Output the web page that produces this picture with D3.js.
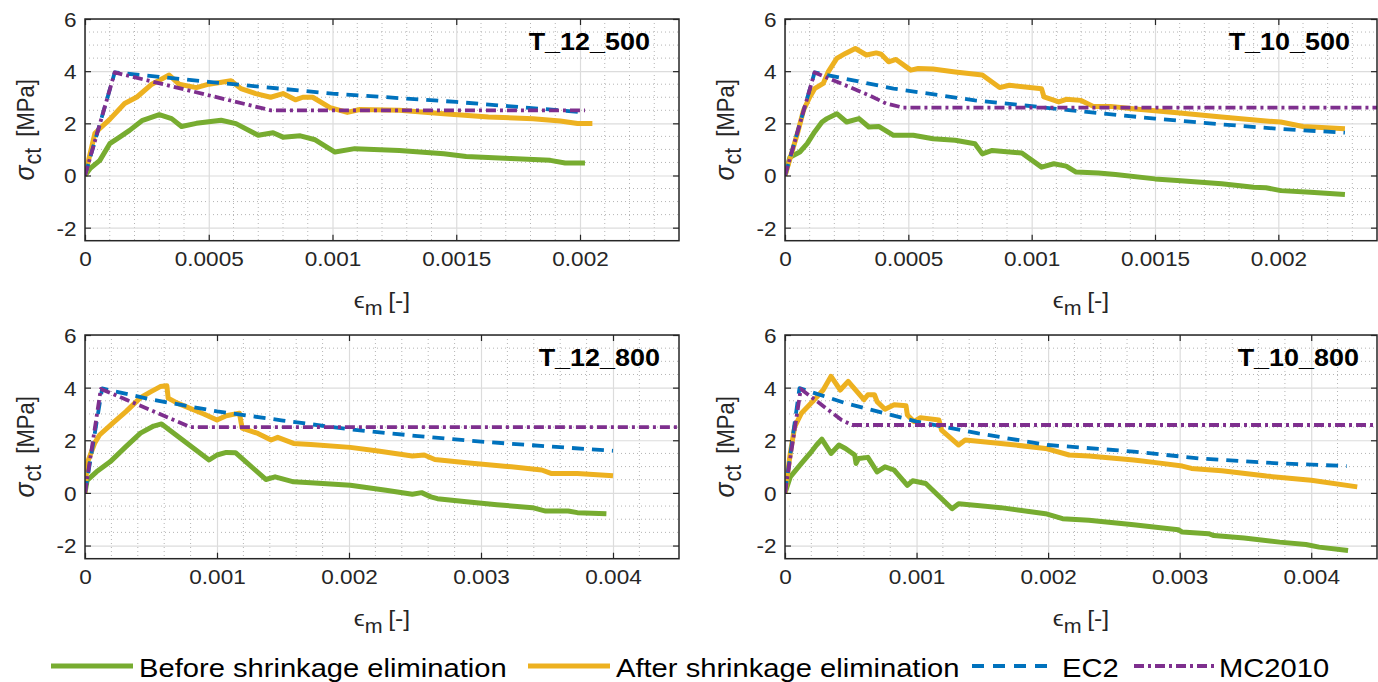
<!DOCTYPE html>
<html>
<head>
<meta charset="utf-8">
<script src="https://cdn.jsdelivr.net/npm/d3@7"></script>
<style>
  body { margin: 0; background: #ffffff; }
  svg { display: block; font-family: "Liberation Sans", Arial, Helvetica, sans-serif; }
</style>
</head>
<body>
<svg id="chart" width="1378" height="682"></svg>
<script>
// ---- Tick labels and names ----
const xTicksShort = [0, 0.0005, 0.001, 0.0015, 0.002];
const xTicksLong = [0, 0.001, 0.002, 0.003, 0.004];
const yTicks = [-2, 0, 2, 4, 6];
const panelTitles = ["T_12_500", "T_10_500", "T_12_800", "T_10_800"];
const seriesNames = ["Before shrinkage elimination", "After shrinkage elimination", "EC2", "MC2010"];

// ---- T_12_500 : [strain, stress MPa] ----
const before_12_500 = [[0,0],[0.00002,0.26],[0.00006,0.58],[0.0001,1.22],[0.00014,1.47],[0.00018,1.73],[0.00023,2.1],[0.0003,2.33],[0.00035,2.18],[0.00039,1.88],[0.00045,2.0],[0.00055,2.12],[0.00061,1.99],[0.0007,1.54],[0.00076,1.64],[0.0008,1.47],[0.00087,1.52],[0.00093,1.37],[0.00101,0.9],[0.00109,1.03],[0.00127,0.96],[0.00145,0.83],[0.00154,0.73],[0.00172,0.65],[0.00188,0.58],[0.00194,0.48],[0.00202,0.48]];
const after_12_500 = [[0,0],[0.00004,1.62],[0.00006,1.8],[0.0001,2.15],[0.00016,2.76],[0.00021,3.01],[0.00027,3.5],[0.00031,3.7],[0.00034,3.85],[0.00038,3.5],[0.00045,3.37],[0.0005,3.5],[0.00059,3.63],[0.00063,3.33],[0.00069,3.14],[0.00075,3.0],[0.0008,3.14],[0.00085,2.9],[0.00088,3.0],[0.00092,3.0],[0.00099,2.6],[0.00106,2.42],[0.00111,2.53],[0.00127,2.5],[0.00145,2.37],[0.00163,2.24],[0.00181,2.18],[0.00192,2.09],[0.00199,1.99],[0.00205,1.99]];
const ec2_12_500 = [[0,0],[0.00012,3.95],[0.0005,3.59],[0.001,3.14],[0.0015,2.82],[0.00202,2.42]];
const mc_12_500 = [[0,0],[0.00012,3.95],[0.00075,2.5],[0.00202,2.5]];

// ---- T_10_500 ----
const before_10_500 = [[0,0],[0.00002,0.7],[0.00006,0.9],[0.00009,1.22],[0.00012,1.67],[0.00015,2.05],[0.00017,2.18],[0.00021,2.37],[0.00025,2.05],[0.0003,2.18],[0.00034,1.86],[0.00038,1.88],[0.00044,1.54],[0.00052,1.54],[0.0006,1.41],[0.00069,1.35],[0.00077,1.22],[0.0008,0.83],[0.00084,0.96],[0.00096,0.86],[0.00104,0.32],[0.00109,0.45],[0.00114,0.36],[0.00118,0.13],[0.00127,0.1],[0.00134,0.04],[0.0015,-0.13],[0.00159,-0.19],[0.00177,-0.32],[0.0019,-0.45],[0.00195,-0.47],[0.00201,-0.58],[0.00213,-0.64],[0.00227,-0.73]];
const after_10_500 = [[0,0],[0.00005,1.6],[0.000075,2.5],[0.0001,3.0],[0.00012,3.33],[0.000155,3.53],[0.000175,3.97],[0.00021,4.49],[0.000245,4.68],[0.000285,4.87],[0.00033,4.62],[0.00037,4.7],[0.00039,4.65],[0.00042,4.36],[0.00045,4.45],[0.00051,4.04],[0.00054,4.1],[0.0006,4.08],[0.00069,3.97],[0.0008,3.85],[0.00087,3.37],[0.00091,3.46],[0.00104,3.33],[0.00105,3.01],[0.00111,2.82],[0.00114,2.92],[0.0012,2.88],[0.00125,2.65],[0.00132,2.65],[0.00141,2.56],[0.00159,2.41],[0.00177,2.24],[0.00195,2.09],[0.00201,2.05],[0.0021,1.88],[0.00227,1.79]];
const ec2_10_500 = [[0,0],[0.00012,3.95],[0.00044,3.33],[0.00077,2.88],[0.00116,2.5],[0.0015,2.18],[0.00177,1.96],[0.002,1.79],[0.00227,1.64]];
const mc_10_500 = [[0,0],[0.00012,3.95],[0.00034,3.08],[0.00041,2.76],[0.00048,2.6],[0.0024,2.6]];

// ---- T_12_800 ----
const before_12_800 = [[0,0],[0.000016,0.48],[0.000087,0.8],[0.00019,1.18],[0.00031,1.76],[0.00042,2.27],[0.00052,2.54],[0.00058,2.62],[0.00094,1.25],[0.001,1.44],[0.00107,1.54],[0.00114,1.53],[0.00137,0.51],[0.00144,0.61],[0.00158,0.42],[0.00171,0.39],[0.00201,0.29],[0.00228,0.1],[0.00248,-0.05],[0.00255,0.01],[0.00262,-0.15],[0.00267,-0.22],[0.00289,-0.34],[0.00312,-0.45],[0.00339,-0.56],[0.00349,-0.69],[0.00366,-0.69],[0.00373,-0.75],[0.00395,-0.79]];
const after_12_800 = [[0,0],[0.000016,1.12],[0.000074,1.9],[0.00011,2.2],[0.00021,2.65],[0.00031,3.09],[0.00042,3.62],[0.0005,3.85],[0.00057,4.04],[0.00062,4.07],[0.00063,3.6],[0.0007,3.41],[0.0009,3.0],[0.001,2.77],[0.00107,2.93],[0.00117,3.03],[0.00119,2.46],[0.00131,2.26],[0.00141,2.01],[0.00146,2.11],[0.00158,1.88],[0.00171,1.84],[0.00201,1.73],[0.00222,1.59],[0.00248,1.4],[0.00257,1.44],[0.00265,1.27],[0.00289,1.15],[0.00323,0.99],[0.00346,0.87],[0.00353,0.74],[0.00373,0.74],[0.004,0.65]];
const ec2_12_800 = [[0,0],[0.00013,3.97],[0.0005,3.55],[0.001,3.1],[0.0015,2.75],[0.002,2.42],[0.0025,2.17],[0.003,1.95],[0.0035,1.77],[0.004,1.6]];
const mc_12_800 = [[0,0],[0.00012,3.95],[0.0008,2.5],[0.0045,2.5]];

// ---- T_10_800 ----
const before_10_800 = [[0,0],[0.00004,0.61],[0.000125,1.12],[0.00019,1.5],[0.00024,1.82],[0.00028,2.04],[0.00035,1.5],[0.00041,1.82],[0.00046,1.69],[0.00053,1.44],[0.00054,1.12],[0.00056,1.31],[0.00063,1.35],[0.0007,0.8],[0.00076,0.99],[0.00083,0.87],[0.00093,0.29],[0.00097,0.46],[0.00107,0.36],[0.00127,-0.6],[0.00132,-0.41],[0.00164,-0.56],[0.00198,-0.79],[0.00211,-0.98],[0.00231,-1.04],[0.00265,-1.21],[0.00299,-1.4],[0.00302,-1.49],[0.00322,-1.55],[0.00326,-1.62],[0.00349,-1.71],[0.00376,-1.87],[0.00396,-1.96],[0.00406,-2.06],[0.00428,-2.19]];
const after_10_800 = [[0,0],[0.00004,1.5],[0.000074,2.52],[0.000125,3.03],[0.00021,3.47],[0.00029,3.91],[0.00035,4.43],[0.00042,3.91],[0.00048,4.24],[0.0006,3.54],[0.00063,3.73],[0.00068,3.73],[0.0007,3.47],[0.00076,3.18],[0.00083,3.35],[0.00092,3.31],[0.00093,2.96],[0.00098,2.71],[0.00103,2.86],[0.00117,2.77],[0.00119,2.39],[0.00132,1.82],[0.00137,2.01],[0.00164,1.88],[0.00198,1.69],[0.00216,1.44],[0.00231,1.4],[0.00265,1.25],[0.00282,1.15],[0.00302,1.02],[0.00309,0.93],[0.00332,0.84],[0.00366,0.64],[0.004,0.48],[0.00435,0.23]];
const ec2_10_800 = [[0,0],[0.00011,3.98],[0.00046,3.41],[0.001,2.71],[0.00147,2.26],[0.002,1.82],[0.00265,1.57],[0.00315,1.31],[0.00376,1.12],[0.00427,1.02]];
const mc_10_800 = [[0,0],[0.00012,3.95],[0.00043,2.77],[0.00051,2.58],[0.0045,2.58]];

// ---- Styling for the four series ----
const seriesStyles = [
  { color: "#77AC30", width: 5, dash: null },
  { color: "#EDB120", width: 5, dash: null },
  { color: "#0072BD", width: 3.8, dash: "12,8" },
  { color: "#7E2F8E", width: 3.8, dash: "10,4,3,4" }
];

// ---- Panel geometry ----
const panels = [
  { title: panelTitles[0], series: [before_12_500, after_12_500, ec2_12_500, mc_12_500],
    left: 85, right: 679, top: 19, bottom: 240.7, xMax: 0.0024, ticks: xTicksShort, minorStep: 0.0001, titleRight: 650 },
  { title: panelTitles[1], series: [before_10_500, after_10_500, ec2_10_500, mc_10_500],
    left: 785, right: 1377, top: 19, bottom: 240.7, xMax: 0.0024, ticks: xTicksShort, minorStep: 0.0001, titleRight: 1350 },
  { title: panelTitles[2], series: [before_12_800, after_12_800, ec2_12_800, mc_12_800],
    left: 85, right: 679, top: 335, bottom: 558.7, xMax: 0.0045, ticks: xTicksLong, minorStep: 0.0002, titleRight: 660 },
  { title: panelTitles[3], series: [before_10_800, after_10_800, ec2_10_800, mc_10_800],
    left: 785, right: 1377, top: 335, bottom: 558.7, xMax: 0.0045, ticks: xTicksLong, minorStep: 0.0002, titleRight: 1359 }
];

const svg = d3.select("#chart");
const axisColor = "#262626";
const fmtTick = v => String(v);
const SX = 1.1;   // the lettering is set slightly wide

panels.forEach((p, i) => {
  const x = d3.scaleLinear().domain([0, p.xMax]).range([p.left, p.right]);
  const y = d3.scaleLinear().domain([-2.5, 6]).range([p.bottom, p.top]);
  const g = svg.append("g");
  const w = p.right - p.left, h = p.bottom - p.top;

  // minor grid (dotted)
  const nMinorX = Math.round(p.xMax / p.minorStep);
  const majorStep = p.ticks[1];
  const minorX = d3.range(1, nMinorX).map(k => k * p.minorStep)
    .filter(v => Math.abs(v / majorStep - Math.round(v / majorStep)) > 1e-6);
  const minorY = d3.range(-2.5, 6.01, 0.5).filter(v => v > -2.5 && v < 6 && Math.abs(v / 2 - Math.round(v / 2)) > 1e-6);

  g.append("g").selectAll("line").data(minorX).join("line")
    .attr("x1", d => x(d)).attr("x2", d => x(d))
    .attr("y1", p.top).attr("y2", p.bottom)
    .attr("stroke", "#b4b4b4").attr("stroke-width", 1).attr("stroke-dasharray", "1,3");
  g.append("g").selectAll("line").data(minorY).join("line")
    .attr("x1", p.left).attr("x2", p.right)
    .attr("y1", d => y(d)).attr("y2", d => y(d))
    .attr("stroke", "#b4b4b4").attr("stroke-width", 1).attr("stroke-dasharray", "1,3");

  // major grid
  const gx = g.append("g").attr("transform", `translate(0,${p.bottom})`)
    .call(d3.axisBottom(x).tickValues(p.ticks).tickSize(-h).tickFormat(""));
  const gy = g.append("g").attr("transform", `translate(${p.left},0)`)
    .call(d3.axisLeft(y).tickValues(yTicks).tickSize(-w).tickFormat(""));
  [gx, gy].forEach(a => {
    a.select(".domain").remove();
    a.selectAll(".tick line").attr("stroke", "#dcdcdc").attr("stroke-width", 1.2);
  });

  // data
  const clipId = "clip" + i;
  svg.append("clipPath").attr("id", clipId).append("rect")
    .attr("x", p.left).attr("y", p.top).attr("width", w).attr("height", h);
  const line = d3.line().x(d => x(d[0])).y(d => y(d[1]));
  const dataG = g.append("g").attr("clip-path", `url(#${clipId})`);
  p.series.forEach((s, k) => {
    const st = seriesStyles[k];
    dataG.append("path").datum(s)
      .attr("d", line)
      .attr("fill", "none")
      .attr("stroke", st.color)
      .attr("stroke-width", st.width)
      .attr("stroke-linejoin", "round")
      .attr("stroke-dasharray", st.dash);
  });

  // box and inward ticks on all four sides
  const tickLen = 6;
  const axB = g.append("g").attr("transform", `translate(0,${p.bottom})`)
    .call(d3.axisBottom(x).tickValues(p.ticks).tickSizeInner(-tickLen).tickSizeOuter(0).tickFormat(fmtTick));
  const axT = g.append("g").attr("transform", `translate(0,${p.top})`)
    .call(d3.axisTop(x).tickValues(p.ticks).tickSizeInner(-tickLen).tickSizeOuter(0).tickFormat(""));
  const axL = g.append("g").attr("transform", `translate(${p.left},0)`)
    .call(d3.axisLeft(y).tickValues(yTicks).tickSizeInner(-tickLen).tickSizeOuter(0).tickFormat(fmtTick));
  const axR = g.append("g").attr("transform", `translate(${p.right},0)`)
    .call(d3.axisRight(y).tickValues(yTicks).tickSizeInner(-tickLen).tickSizeOuter(0).tickFormat(""));
  [axB, axT, axL, axR].forEach(a => {
    a.select(".domain").remove();
    a.selectAll(".tick line").attr("stroke", axisColor).attr("stroke-width", 1.2);
    a.selectAll(".tick text").attr("fill", axisColor).attr("font-size", 20.5)
      .attr("font-family", "'Liberation Sans', Arial, sans-serif")
      .attr("transform", `scale(${SX},1)`);
  });
  axB.selectAll(".tick text").attr("dy", null).attr("y", 25.5).attr("x", 0);
  axL.selectAll(".tick text").attr("x", -8.5 / SX).attr("dy", "0.36em");

  g.append("rect").attr("x", p.left).attr("y", p.top).attr("width", w).attr("height", h)
    .attr("fill", "none").attr("stroke", axisColor).attr("stroke-width", 1.5);

  // panel title
  g.append("text")
    .attr("transform", `translate(${p.titleRight},${p.top + 30.5}) scale(${SX},1)`)
    .attr("text-anchor", "end").attr("font-weight", "bold").attr("font-size", 24.5)
    .attr("fill", "#000").text(p.title);

  // axis titles
  const xl = g.append("text")
    .attr("transform", `translate(${(p.left + p.right) / 2},${p.bottom + 67.5}) scale(${SX},1)`)
    .attr("text-anchor", "middle").attr("font-size", 22.5).attr("fill", axisColor);
  xl.append("tspan").text("\u03F5");
  xl.append("tspan").attr("font-size", 19.5).attr("dy", 7).text("m");
  xl.append("tspan").attr("dy", -7).attr("dx", 5).text("[-]");

  const yl = g.append("text")
    .attr("transform", `translate(${p.left - 51.5},${(p.top + p.bottom) / 2}) rotate(-90) scale(1,${SX})`)
    .attr("text-anchor", "middle").attr("font-size", 22).attr("fill", axisColor);
  yl.append("tspan").attr("font-style", "italic").attr("font-size", 25).text("\u03C3");
  yl.append("tspan").attr("font-size", 21.5).attr("dy", 6.5).attr("dx", 1).text("ct");
  yl.append("tspan").attr("dy", -6.5).attr("dx", 11).text("[MPa]");
});

// ---- Legend ----
const legendItems = [
  { lineX: 51, textX: 139 },
  { lineX: 528, textX: 616 },
  { lineX: 972, textX: 1062 },
  { lineX: 1134, textX: 1219 }
];
const legend = svg.append("g");
seriesNames.forEach((name, k) => {
  const st = seriesStyles[k];
  const it = legendItems[k];
  legend.append("line")
    .attr("x1", it.lineX).attr("x2", it.lineX + 82)
    .attr("y1", 666).attr("y2", 666)
    .attr("stroke", st.color).attr("stroke-width", k < 2 ? 5 : 4)
    .attr("stroke-dasharray", k === 2 ? "12,9" : st.dash);
  legend.append("text")
    .attr("transform", `translate(${it.textX},676.5) scale(${SX},1)`)
    .attr("font-size", 26.5).attr("fill", "#000").text(name);
});
</script>
</body>
</html>
